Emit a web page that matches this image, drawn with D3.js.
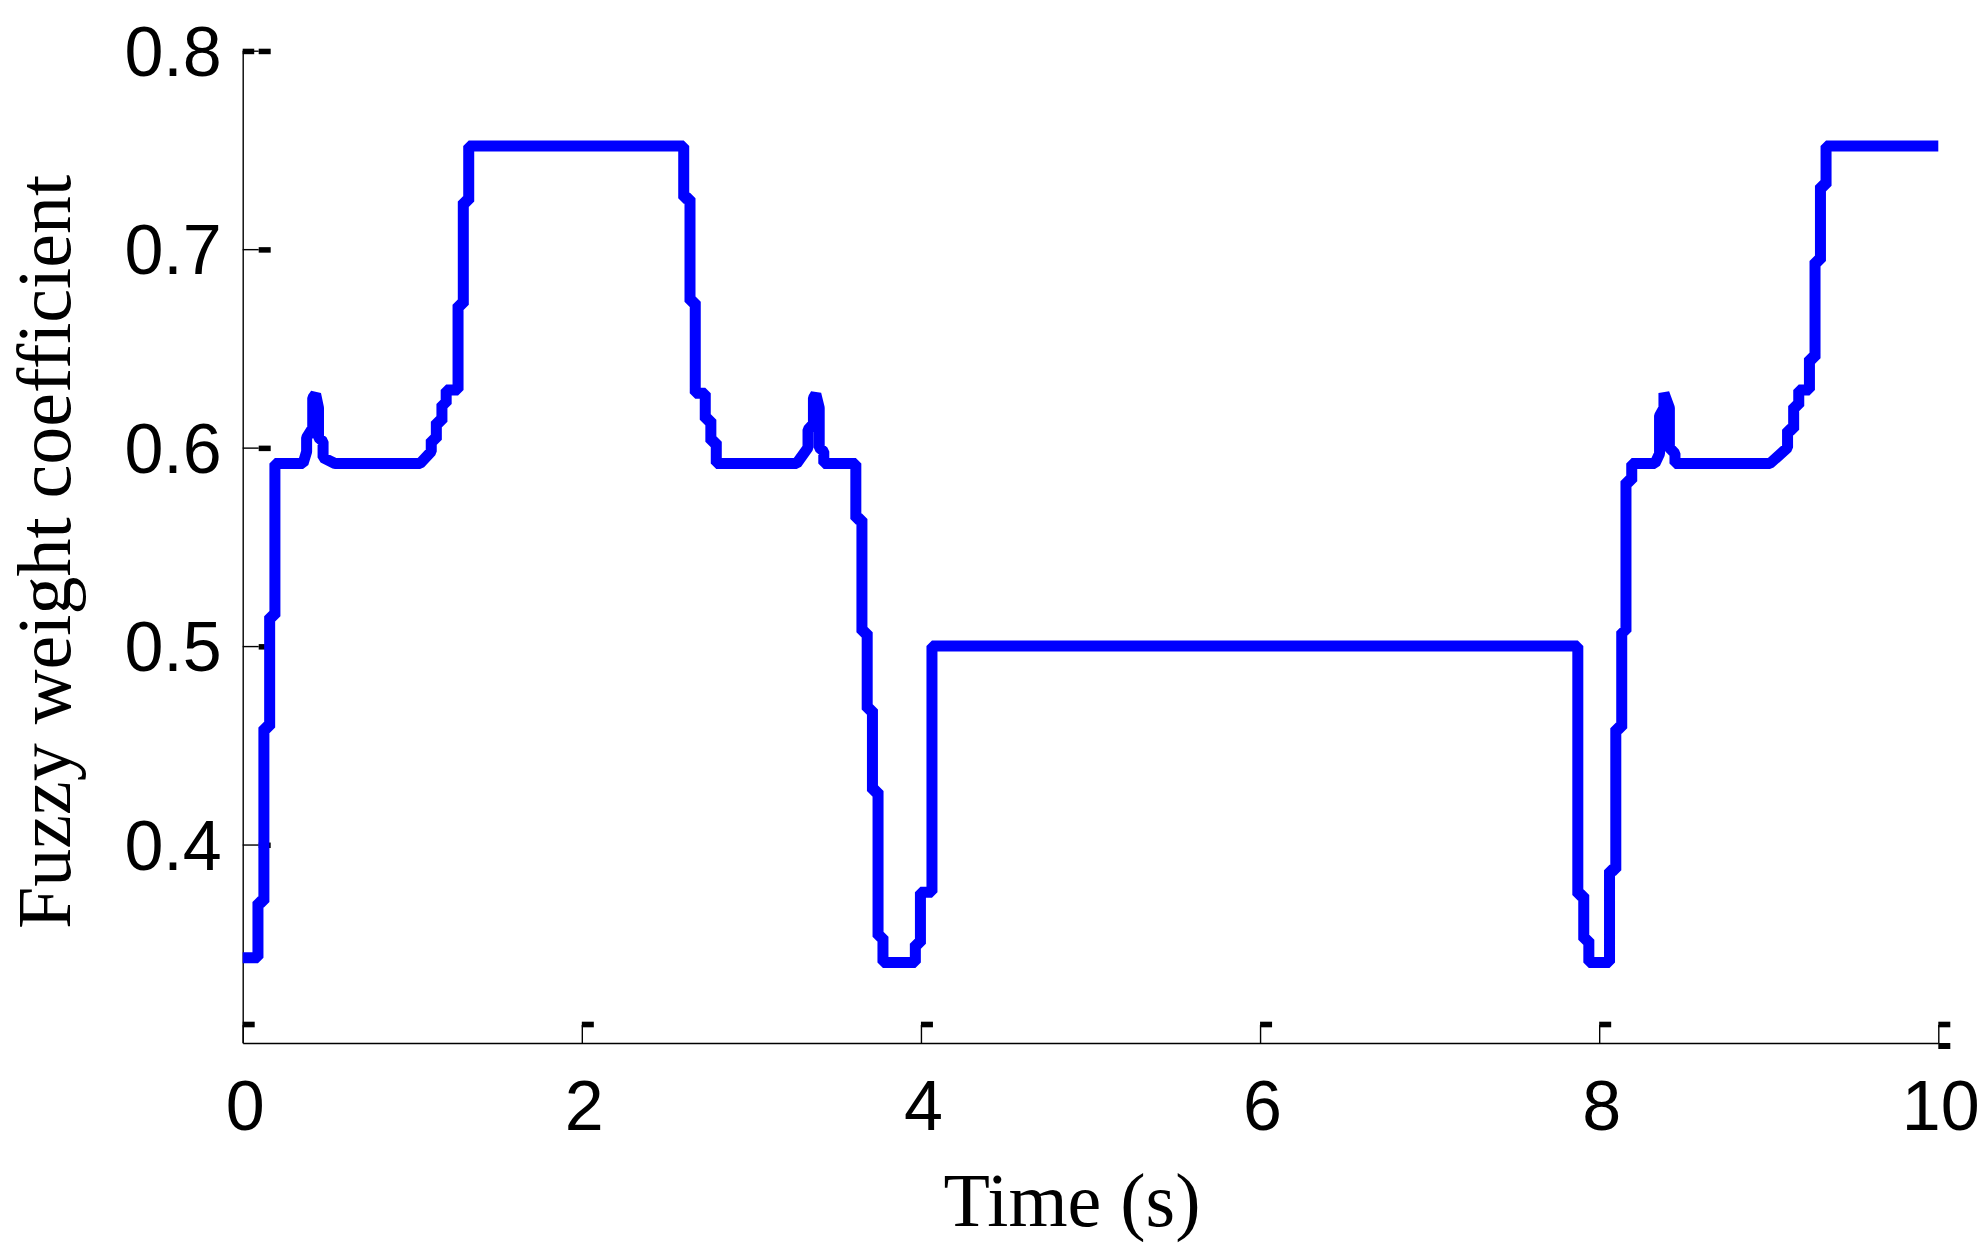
<!DOCTYPE html>
<html>
<head>
<meta charset="utf-8">
<script src="https://cdn.jsdelivr.net/npm/d3@7"></script>
<style>
  html, body { margin: 0; padding: 0; background: #fff; }
  svg { display: block; }
</style>
</head>
<body>
<svg id="chart" width="1986" height="1260"></svg>
<script>
// ---- Data ----
const timeS = [
  0, 0.09, 0.09, 0.125, 0.125, 0.159, 0.159, 0.19, 0.19, 0.356,
  0.377, 0.377, 0.413, 0.413, 0.43, 0.447, 0.447, 0.474, 0.474, 0.544,
  1.046, 1.112, 1.112, 1.142, 1.142, 1.175, 1.175, 1.20, 1.20, 1.270, 1.270, 1.301, 1.301, 1.333, 1.333,
  2.601, 2.601, 2.638, 2.638, 2.669, 2.669, 2.728, 2.728, 2.761, 2.761, 2.793, 2.793,
  3.267, 3.334, 3.334, 3.366, 3.366, 3.38, 3.400, 3.400, 3.427, 3.427,
  3.616, 3.616, 3.652, 3.652, 3.683, 3.683, 3.714, 3.714, 3.747, 3.747, 3.776, 3.776,
  3.967, 3.967, 3.997, 3.997, 4.065, 4.065,
  7.874, 7.874, 7.909, 7.909, 7.939, 7.939,
  8.061, 8.061, 8.098, 8.098, 8.133, 8.133, 8.158, 8.158, 8.192, 8.192,
  8.329, 8.356, 8.356, 8.382, 8.382, 8.414, 8.414, 8.447, 8.447,
  9.007, 9.111, 9.111, 9.147, 9.147, 9.177, 9.177, 9.240, 9.240, 9.273, 9.273, 9.305, 9.305, 9.338, 9.338,
  10
];
const weight = [
  0.343, 0.343, 0.371, 0.371, 0.459, 0.459, 0.515, 0.515, 0.592, 0.592,
  0.598, 0.605, 0.610, 0.625, 0.627, 0.620, 0.605, 0.603, 0.595, 0.592,
  0.592, 0.598, 0.604, 0.604, 0.613, 0.613, 0.622, 0.622, 0.629, 0.629, 0.672, 0.672, 0.724, 0.724, 0.752,
  0.752, 0.7256, 0.7256, 0.6735, 0.6735, 0.6274, 0.6274, 0.614, 0.614, 0.603, 0.603, 0.592,
  0.592, 0.600, 0.609, 0.612, 0.625, 0.627, 0.620, 0.600, 0.598, 0.592,
  0.592, 0.564, 0.564, 0.507, 0.507, 0.468, 0.468, 0.427, 0.427, 0.3535, 0.3535, 0.3405,
  0.3405, 0.350, 0.350, 0.376, 0.376, 0.500,
  0.500, 0.3746, 0.3746, 0.352, 0.352, 0.3405,
  0.3405, 0.387, 0.387, 0.4586, 0.4586, 0.5073, 0.5073, 0.583, 0.583, 0.592,
  0.592, 0.597, 0.616, 0.620, 0.6275, 0.620, 0.600, 0.597, 0.592,
  0.592, 0.600, 0.609, 0.609, 0.621, 0.621, 0.629, 0.629, 0.645, 0.645, 0.694, 0.694, 0.732, 0.732, 0.752,
  0.752
];
const xTicks = [0, 2, 4, 6, 8, 10];
const yTicks = [0.4, 0.5, 0.6, 0.7, 0.8];
const xLabel = "Time (s)";
const yLabel = "Fuzzy weight coefficient";

// ---- Layout ----
const svg = d3.select("#chart");
const x = d3.scaleLinear().domain([0, 10]).range([242.7, 1938.3]);
const y = d3.scaleLinear().domain([0.3, 0.8]).range([1043, 50.7]);
const sansFont = "'Liberation Sans', Arial, sans-serif";
const serifFont = "'Liberation Serif', 'Times New Roman', serif";

// Axes
const gx = svg.append("g").attr("transform", `translate(0,${y.range()[0]})`)
  .call(d3.axisBottom(x).tickValues(xTicks).tickSize(-18).tickSizeOuter(0).tickFormat(d3.format("d")));
const gy = svg.append("g").attr("transform", `translate(${x.range()[0]},0)`)
  .call(d3.axisLeft(y).tickValues(yTicks).tickSize(-16).tickSizeOuter(0).tickFormat(d3.format(".1f")));

[gx, gy].forEach(g => {
  g.select(".domain").attr("stroke", "#000").attr("stroke-width", 1.4);
  g.selectAll(".tick line").attr("stroke", "#000").attr("stroke-width", 1.4);
  g.selectAll(".tick text").attr("fill", "#000")
    .style("font-family", sansFont).style("font-size", "70px");
});
gx.selectAll(".tick text").attr("y", 87).attr("dy", null).attr("dx", 2);
gy.selectAll(".tick text").attr("x", -21).attr("dy", "0.35em");

// tick end markers (thicker segments seen in the reference)
svg.append("g").selectAll("rect.yt").data(yTicks).join("rect")
  .attr("x", x(0) + 16).attr("y", d => y(d) - 2).attr("width", 12).attr("height", 5.5).attr("fill", "#000");
svg.append("g").selectAll("rect.xt").data(xTicks).join("rect")
  .attr("x", d => x(d)).attr("y", y.range()[0] - 21.3).attr("width", 12).attr("height", 5.6).attr("fill", "#000");
svg.append("rect").attr("x", x(0)).attr("y", y(0.8) - 2).attr("width", 11.5).attr("height", 5.5).attr("fill", "#000");
svg.append("rect").attr("x", x(10)).attr("y", y.range()[0]).attr("width", 12).attr("height", 6).attr("fill", "#000");

// Line
const pts = timeS.map((t, i) => [t, weight[i]]);
const line = d3.line().x(d => x(d[0])).y(d => y(d[1]));
svg.append("path").datum(pts)
  .attr("d", line)
  .attr("fill", "none")
  .attr("stroke", "#0000FF")
  .attr("stroke-width", 11)
  .attr("stroke-linejoin", "bevel")
  .attr("stroke-linecap", "butt");

// Axis titles
svg.append("text").text(xLabel)
  .attr("x", 1072).attr("y", 1226)
  .attr("text-anchor", "middle")
  .style("font-family", serifFont).style("font-size", "76px").attr("fill", "#000");
svg.append("text").text(yLabel)
  .attr("transform", "translate(70,552) rotate(-90)")
  .attr("text-anchor", "middle")
  .style("font-family", serifFont).style("font-size", "76px").attr("fill", "#000");
</script>
</body>
</html>
